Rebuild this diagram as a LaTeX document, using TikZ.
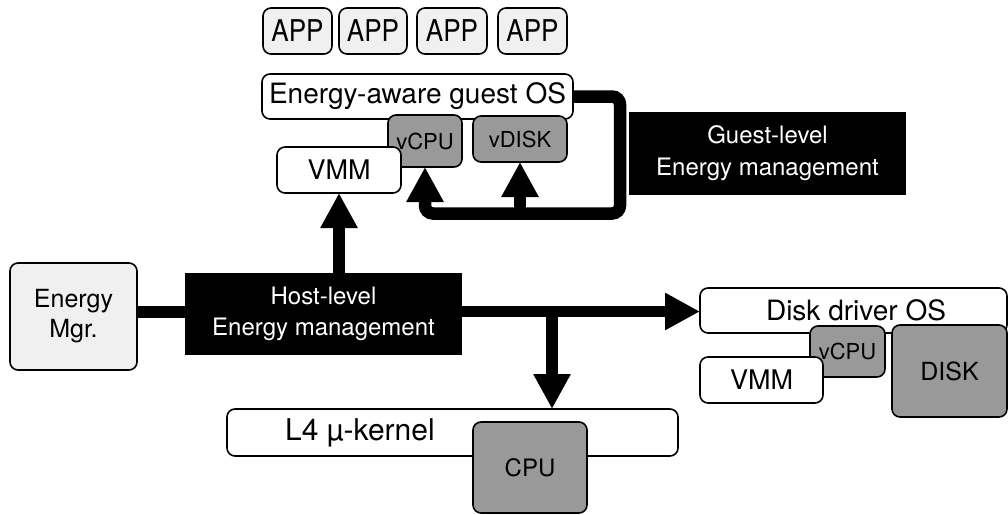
\documentclass[tikz,border=0pt]{standalone}
\usepackage{fontspec}
\setmainfont{TeX Gyre Heros}
\usetikzlibrary{arrows.meta}
\definecolor{lightfill}{HTML}{F0F0F0}
\definecolor{grayfill}{HTML}{999999}
\newcommand{\fs}[2]{\fontsize{#1}{#2}\selectfont}
\begin{document}
\begin{tikzpicture}[x=1pt,y=-1pt,
  box/.style={draw=black,line width=1.6pt,rounded corners=8pt,inner sep=0pt,outer sep=0pt,align=center},
  wbox/.style={box,fill=white},
  lbox/.style={box,fill=lightfill},
  gbox/.style={box,fill=grayfill},
  kbox/.style={fill=black,text=white,inner sep=0pt,outer sep=0pt,align=center},
  thickline/.style={line width=11.5pt},
  bigtip/.style={-{Triangle[width=35pt,length=35pt]}}
]
\useasboundingbox (0,0) rectangle (1008,514);
% APPs
\foreach \n/\cx/\w in {a1/297.5/69, a2/373/68, a3/452/70, a4/532.5/69}{
  \node[lbox,minimum width=\w pt,minimum height=46pt,font=\fs{30}{30}] (\n) at (\cx,31) {\scalebox{0.87}[1]{APP}};
}
% guest stack
\node[wbox,minimum width=311pt,minimum height=45pt,font=\fs{28}{30}] (gos) at (417.5,96.5) {Energy-aware guest OS};
\node[gbox,minimum width=74pt,minimum height=52pt,font=\fs{22}{24}] (gvcpu) at (425,141) {vCPU};
\node[gbox,minimum width=94pt,minimum height=46pt,font=\fs{22}{24}] (gvdisk) at (520,139) {vDISK};
\node[wbox,minimum width=124pt,minimum height=46pt,font=\fs{27}{29}] (gvmm) at (339,170) {VMM};
\node[kbox,minimum width=277pt,minimum height=83pt,font=\fs{24}{32}] (guest) at (767.5,153.5) {Guest-level\\Energy management};
% host level
\node[lbox,minimum width=127pt,minimum height=107pt,font=\fs{25}{30}] (emgr) at (73.5,316.5) {Energy\\Mgr.};
\node[kbox,minimum width=277pt,minimum height=82pt,font=\fs{24}{31}] (host) at (323.5,314) {Host-level\\Energy management};
% disk driver stack
\node[wbox,minimum width=307pt,minimum height=45pt] (ddos) at (853.5,310.5) {};
\node[inner sep=0pt,font=\fs{28}{30}] (ddostxt) at (856,310.5) {Disk driver OS};
\node[gbox,minimum width=75pt,minimum height=51pt,font=\fs{22}{24}] (hvcpu) at (847.5,351.5) {vCPU};
\node[wbox,minimum width=123pt,minimum height=46pt,font=\fs{27}{29}] (hvmm) at (761.5,380) {VMM};
\node[gbox,minimum width=115pt,minimum height=92pt,font=\fs{25}{27}] (disk) at (949.5,371) {DISK};
% kernel
\node[wbox,minimum width=451pt,minimum height=47pt] (l4) at (452.5,432.5) {};
\node[anchor=west,inner sep=0pt,font=\fs{30}{32}] (l4txt) at (285,432.5) {L4 µ-kernel};
\node[gbox,minimum width=114pt,minimum height=91pt,font=\fs{24}{26}] (cpu) at (530,467.5) {CPU};
% connectors
\coordinate (gc) at (620,213.5);
\draw[thickline,line width=12.5pt,rounded corners=8pt,bigtip] (gos.east) -| (gc) -| (gvcpu.south);
\draw[thickline,line width=12.5pt,bigtip] (gvdisk.south |- gc) -- (gvdisk.south);
\draw[thickline] (emgr.east |- 0,312) -- (host.west |- 0,312);
\draw[thickline,bigtip] (gvmm.south |- host.north) -- (gvmm.south);
\coordinate (hr) at (host.east |- 0,311.5);
\draw[thickline,bigtip] (hr) -- (hr -| ddos.west);
\coordinate (br) at (552,311.5);
\draw[thickline,bigtip] (br) -- (br |- l4.north);
\end{tikzpicture}
\end{document}
